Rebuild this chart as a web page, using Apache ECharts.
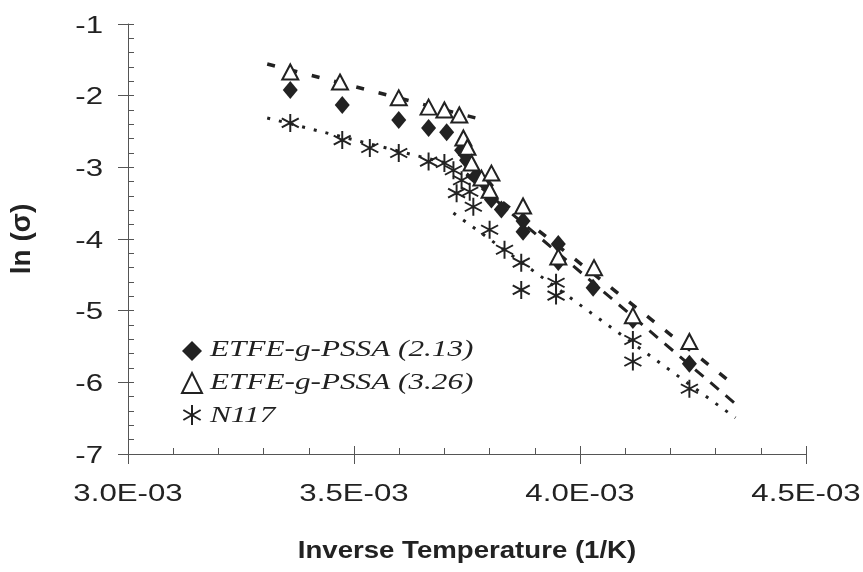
<!DOCTYPE html>
<html>
<head>
<meta charset="utf-8">
<script src="https://cdn.jsdelivr.net/npm/echarts@6/dist/echarts.min.js"></script>
<style>html,body{margin:0;padding:0;background:#fff}#c{width:863px;height:572px}</style>
</head>
<body>
<div id="c"></div>
<script>
// ---- data ----
const seriesNames = ['ETFE-g-PSSA (2.13)', 'ETFE-g-PSSA (3.26)', 'N117'];

const diamondX = [3.359e-3, 3.474e-3, 3.599e-3, 3.665e-3, 3.705e-3, 3.738e-3, 3.749e-3, 3.771e-3, 3.793e-3, 3.804e-3, 3.826e-3, 3.874e-3, 3.874e-3, 3.952e-3, 3.952e-3, 4.029e-3, 4.117e-3, 4.242e-3];
const diamondY = [-1.92, -2.13, -2.34, -2.45, -2.51, -2.76, -2.90, -3.11, -3.25, -3.45, -3.59, -3.75, -3.90, -4.07, -4.32, -4.68, -5.13, -5.74];

const triangleX = [3.359e-3, 3.469e-3, 3.599e-3, 3.665e-3, 3.700e-3, 3.733e-3, 3.742e-3, 3.751e-3, 3.760e-3, 3.782e-3, 3.804e-3, 3.800e-3, 3.874e-3, 3.952e-3, 4.031e-3, 4.117e-3, 4.242e-3];
const triangleY = [-1.67, -1.81, -2.03, -2.16, -2.20, -2.27, -2.59, -2.72, -2.94, -3.15, -3.08, -3.32, -3.54, -4.25, -4.40, -5.07, -5.43];

const starX = [3.359e-3, 3.474e-3, 3.535e-3, 3.599e-3, 3.665e-3, 3.700e-3, 3.720e-3, 3.738e-3, 3.727e-3, 3.756e-3, 3.764e-3, 3.800e-3, 3.833e-3, 3.870e-3, 3.870e-3, 3.947e-3, 3.947e-3, 4.117e-3, 4.117e-3, 4.242e-3];
const starY = [-2.38, -2.62, -2.73, -2.80, -2.92, -2.94, -3.04, -3.18, -3.36, -3.34, -3.55, -3.87, -4.15, -4.33, -4.71, -4.61, -4.79, -5.41, -5.71, -6.09];

// trend-line end points (x, y)
const fitTriLow = [[3.308e-3, -1.558], [3.778e-3, -2.325]];
const fitTriHigh = [[3.749e-3, -3.09], [4.344e-3, -6.05]];
const fitDiaHigh = [[3.749e-3, -3.11], [4.344e-3, -6.30]];
const fitN117Low = [[3.308e-3, -2.311], [3.720e-3, -2.967]];
const fitN117High = [[3.720e-3, -3.636], [4.344e-3, -6.495]];

const xTickValues = [3.0e-3, 3.5e-3, 4.0e-3, 4.5e-3];
const xTickLabels = ['3.0E-03', '3.5E-03', '4.0E-03', '4.5E-03'];
const yTickValues = [-7, -6, -5, -4, -3, -2, -1];
const yTickLabels = ['-7', '-6', '-5', '-4', '-3', '-2', '-1'];
const xAxisTitle = 'Inverse Temperature (1/K)';
const yAxisTitle = 'ln (σ)';

// ---- chart ----
const zip = (xs, ys) => xs.map((x, i) => [x, ys[i]]);
const starPath = 'path://M9 0L11 0L11 20L9 20Z M18.16 4.134L19.16 5.866L1.84 15.866L0.84 14.134Z M0.84 5.866L1.84 4.134L19.16 14.134L18.16 15.866Z';
const ink = '#222';
const sans = 'Liberation Sans, Arial, sans-serif';
const serif = 'Liberation Serif, Times New Roman, serif';
const stretch = 1.3;

function fitLine(data, type, width) {
  return {type: 'line', data: data, symbol: 'none', silent: true, z: 1,
    lineStyle: {color: ink, width: width, type: type}};
}

const chart = echarts.init(document.getElementById('c'));
chart.setOption({
  animation: false,
  backgroundColor: '#fff',
  grid: {left: 125, right: 57, top: 24, bottom: 118},
  xAxis: [{
    type: 'value', min: 3.0e-3, max: 4.5e-3, interval: 0.5e-3, position: 'bottom',
    axisLine: {lineStyle: {color: '#555', width: 1}},
    axisTick: {show: true, inside: false, length: 10, lineStyle: {color: '#555'}},
    minorTick: {show: false}, splitLine: {show: false},
    axisLabel: {show: false}
  }, {
    type: 'value', min: 3.0e-3, max: 4.5e-3, interval: 0.5e-3, position: 'bottom',
    axisLine: {show: false}, axisLabel: {show: false}, splitLine: {show: false},
    axisTick: {show: true, inside: true, length: 8, lineStyle: {color: '#555'}},
    minorTick: {show: true, splitNumber: 5, length: 6, lineStyle: {color: '#555'}}
  }],
  yAxis: [{
    type: 'value', min: -7, max: -1, interval: 1,
    axisLine: {show: true, lineStyle: {color: '#555', width: 1}},
    axisTick: {show: true, inside: false, length: 10, lineStyle: {color: '#555'}},
    splitLine: {show: false},
    axisLabel: {show: false},
    name: yAxisTitle, nameLocation: 'middle', nameGap: 92, nameRotate: 90,
    nameTextStyle: {fontFamily: sans, fontSize: 28, fontWeight: 'bold', color: ink}
  }, {
    type: 'value', min: -7, max: -1, interval: 1, position: 'left',
    axisLine: {show: false}, axisLabel: {show: false}, splitLine: {show: false},
    axisTick: {show: true, inside: true, length: 6, lineStyle: {color: '#555'}},
    minorTick: {show: true, splitNumber: 5, length: 6, lineStyle: {color: '#555'}}
  }],
  legend: {
    data: seriesNames, orient: 'vertical', left: 176, top: 336, itemGap: 11,
    itemWidth: 20, itemHeight: 20, formatter: () => '',
    textStyle: {fontSize: 1}
  },
  series: [
    fitLine(fitTriLow, [8, 15], 3.5),
    fitLine(fitTriHigh, [9, 14], 3.5),
    fitLine(fitDiaHigh, [11, 9], 3),
    fitLine(fitN117Low, [3, 9], 3),
    fitLine(fitN117High, [3, 9], 3),
    {name: seriesNames[0], type: 'scatter', data: zip(diamondX, diamondY), symbol: 'diamond', symbolSize: [15, 18],
      itemStyle: {color: ink, opacity: 1}, z: 3,
      markLine: {silent: true, symbol: 'none', label: {show: false},
        lineStyle: {color: '#d4d4d4', width: 2, type: 'solid'}, data: [{xAxis: xTickValues[3]}]}},
    {name: seriesNames[1], type: 'scatter', data: zip(triangleX, triangleY), symbol: 'triangle', symbolSize: [16, 15],
      itemStyle: {color: '#fff', borderColor: ink, borderWidth: 2, opacity: 1}, z: 4},
    {name: seriesNames[2], type: 'scatter', data: zip(starX, starY), symbol: starPath, symbolSize: 18,
      itemStyle: {color: ink, opacity: 1}, z: 3}
  ]
});

// horizontally stretched text, positioned through the axes' scales
function txt(text, x, y, opts, sx) {
  return {type: 'text', x: x, y: y, scaleX: sx || stretch, silent: true, z: 10,
    style: Object.assign({text: text, fill: ink, fontFamily: sans, fontSize: 24,
      textAlign: 'center', textVerticalAlign: 'middle', align: 'center', verticalAlign: 'middle'}, opts || {})};
}
const g = [];
xTickValues.forEach((v, i) => {
  const p = chart.convertToPixel({gridIndex: 0}, [v, yTickValues[0]]);
  g.push(txt(xTickLabels[i], p[0], p[1] + 40));
});
yTickValues.forEach((v, i) => {
  const p = chart.convertToPixel({gridIndex: 0}, [xTickValues[0], v]);
  g.push(txt(yTickLabels[i], p[0] - 25, p[1] + 2, {textAlign: 'right', align: 'right'}));
});
{
  const a = chart.convertToPixel({gridIndex: 0}, [xTickValues[0], yTickValues[0]]);
  const b = chart.convertToPixel({gridIndex: 0}, [xTickValues[3], yTickValues[0]]);
  g.push(txt(xAxisTitle, (a[0] + b[0]) / 2, a[1] + 97, {fontWeight: 'bold'}, 1.15));
}
const legendRowY = [350, 383, 416];
seriesNames.forEach((n, i) => {
  g.push(txt(n, 210, legendRowY[i], {fontFamily: serif, fontStyle: 'italic', fontSize: 24,
    textAlign: 'left', align: 'left'}));
});
chart.setOption({graphic: g});
</script>
</body>
</html>
